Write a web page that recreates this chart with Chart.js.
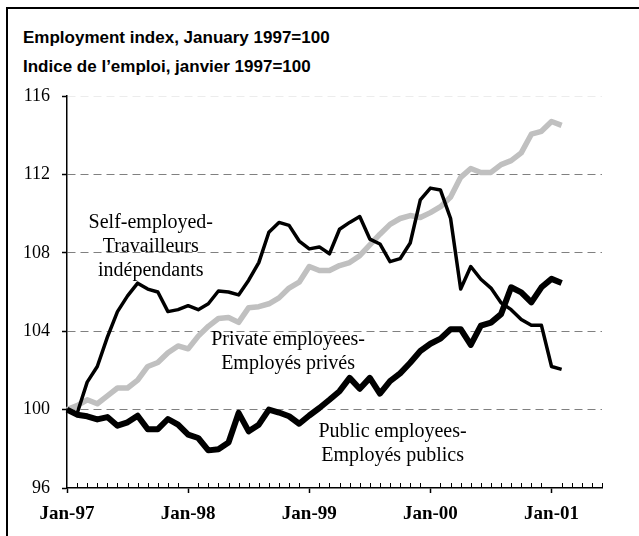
<!DOCTYPE html>
<html>
<head>
<meta charset="utf-8">
<script src="https://cdn.jsdelivr.net/npm/chart.js@4.4.0/dist/chart.umd.min.js"></script>
<style>
  html, body { margin: 0; padding: 0; background: #fff; }
  #wrap { position: relative; width: 639px; height: 536px; overflow: hidden; }
  #frame { position: absolute; left: 6px; top: 7px; width: 700px; height: 600px;
           border-top: 2px solid #000; border-left: 2px solid #000; }
  .title { position: absolute; left: 23px; font: bold 17px 'Liberation Sans', Arial, sans-serif;
           line-height: 20px; color: #000; white-space: nowrap; }
  canvas { position: absolute; left: 0; top: 0; }
</style>
</head>
<body>
<div id="wrap">
  <div id="frame"></div>
  <div class="title" style="top:28px">Employment index, January 1997=100</div>
  <div class="title" style="top:57px">Indice de l’emploi, janvier 1997=100</div>
  <canvas id="employment-chart" width="639" height="536"></canvas>
</div>
<script>
// monthly index, Jan-97 .. Feb-01
const selfEmployed = [
  100, 99.8, 101.4, 102.2, 103.7, 105.0, 105.8, 106.45, 106.15, 106.0, 105.0, 105.1,
  105.3, 105.1, 105.4, 106.05, 106.0, 105.85, 106.6, 107.5, 109.05, 109.55, 109.4, 108.6,
  108.2, 108.3, 107.95, 109.2, 109.55, 109.85, 108.7, 108.45, 107.55, 107.7, 108.5, 110.7,
  111.3, 111.2, 109.75, 106.15, 107.3, 106.65, 106.2, 105.45, 105.1, 104.6, 104.3, 104.3,
  102.2, 102.05
];
const privateEmployees = [
  100, 100.2, 100.5, 100.3, 100.7, 101.1, 101.1, 101.5, 102.2, 102.4, 102.9, 103.25,
  103.1, 103.75, 104.25, 104.65, 104.7, 104.45, 105.2, 105.25, 105.4, 105.7, 106.2, 106.5,
  107.3, 107.1, 107.1, 107.35, 107.5, 107.85, 108.4, 108.95, 109.45, 109.75, 109.9, 109.8,
  110.05, 110.35, 110.85, 111.85, 112.3, 112.1, 112.1, 112.5, 112.7, 113.1, 114.05, 114.2,
  114.7, 114.5
];
const publicEmployees = [
  100, 99.74, 99.66, 99.5, 99.62, 99.18, 99.35, 99.69, 99.0, 99.0, 99.52, 99.23,
  98.72, 98.55, 97.92, 97.98, 98.32, 99.83, 98.89, 99.23, 100.0, 99.85, 99.66, 99.28,
  99.7, 100.08, 100.5, 100.94, 101.62, 101.06, 101.62, 100.82, 101.45, 101.85, 102.39, 102.99,
  103.36, 103.62, 104.1, 104.1, 103.3, 104.28, 104.44, 104.87, 106.24, 105.98, 105.47, 106.24,
  106.67, 106.46
];
const yTicks = [96, 100, 104, 108, 112, 116];
const monthNames = ['Jan', 'Feb', 'Mar', 'Apr', 'May', 'Jun', 'Jul', 'Aug', 'Sep', 'Oct', 'Nov', 'Dec'];
const yearNames = ['97', '98', '99', '00', '01'];
const monthCount = 54; // axis runs on to Jun-01

const categories = [];
for (let i = 0; i < monthCount; i++) {
    categories.push(monthNames[i % 12] + '-' + yearNames[Math.floor(i / 12)]);
}

const notes = [
    { lines: ['Self-employed-', 'Travailleurs', 'indépendants'], x: 8.3, y: 109.52 },
    { lines: ['Private employees-', 'Employés privés'], x: 21.9, y: 103.55 },
    { lines: ['Public employees-', 'Employés publics'], x: 32.25, y: 98.86 }
];

// small monthly ticks pointing up from the x axis, plus the text notes
const axisDecor = {
    id: 'axisDecor',
    afterDraw(chart) {
        const ctx = chart.ctx;
        const xs = chart.scales.x;
        const ys = chart.scales.y;
        const bottom = chart.chartArea.bottom;
        ctx.save();
        ctx.strokeStyle = '#000';
        ctx.lineWidth = 1;
        for (let i = 0; i < monthCount; i++) {
            if (i % 12 === 0) continue;
            const px = Math.round(xs.getPixelForValue(i)) + 0.5;
            ctx.beginPath();
            ctx.moveTo(px, bottom - 5);
            ctx.lineTo(px, bottom);
            ctx.stroke();
        }
        ctx.fillStyle = '#000';
        ctx.font = '20px "Liberation Serif", "Times New Roman", serif';
        ctx.textAlign = 'center';
        ctx.textBaseline = 'middle';
        notes.forEach(n => {
            const cx = xs.getPixelForValue(n.x);
            const cy = ys.getPixelForValue(n.y);
            n.lines.forEach((t, k) => ctx.fillText(t, cx, cy + k * 24));
        });
        ctx.restore();
    }
};

const canvas = document.getElementById('employment-chart');
if (canvas) {
    new Chart(canvas.getContext('2d'), {
        type: 'line',
        data: {
            labels: categories,
            datasets: [
                { label: 'Private employees', data: privateEmployees, borderColor: '#c0c0c0', borderWidth: 5.5, order: 3 },
                { label: 'Self-employed', data: selfEmployed, borderColor: '#000', borderWidth: 3.5, order: 2 },
                { label: 'Public employees', data: publicEmployees, borderColor: '#000', borderWidth: 6, order: 1 }
            ]
        },
        options: {
            responsive: false,
            animation: false,
            layout: { padding: { left: 23, right: 37, top: 96, bottom: 0 } },
            elements: {
                point: { radius: 0 },
                line: { tension: 0, borderJoinStyle: 'round', fill: false }
            },
            plugins: { legend: { display: false }, tooltip: { enabled: false }, title: { display: false } },
            scales: {
                x: {
                    type: 'category',
                    offset: false,
                    afterFit: s => { s.height = 48; },
                    grid: {
                        drawOnChartArea: false,
                        drawTicks: true,
                        tickLength: 5,
                        tickWidth: 1.5,
                        tickColor: c => c.index % 12 === 0 ? '#000' : 'rgba(0,0,0,0)'
                    },
                    border: { display: true, color: '#000', width: 1.5 },
                    ticks: {
                        autoSkip: false,
                        maxRotation: 0,
                        minRotation: 0,
                        padding: 10,
                        color: '#000',
                        font: { family: '"Liberation Serif", "Times New Roman", serif', size: 19, weight: 'bold' },
                        callback: (v, i) => i % 12 === 0 ? categories[i] : ''
                    }
                },
                y: {
                    min: 96,
                    max: 116,
                    afterFit: s => { s.width = 44; },
                    afterBuildTicks: s => { s.ticks = yTicks.map(v => ({ value: v })); },
                    grid: {
                        lineWidth: 1,
                        color: c => c.tick.value === 96 ? 'rgba(0,0,0,0)' : (c.tick.value === 116 ? '#ececec' : '#808080'),
                        tickColor: '#000',
                        tickLength: 5,
                        tickWidth: 1.5
                    },
                    border: { display: true, color: '#000', width: 1.5, dash: [8, 5] },
                    ticks: {
                        padding: 12,
                        color: '#000',
                        font: { family: '"Liberation Serif", "Times New Roman", serif', size: 18 }
                    }
                }
            }
        },
        plugins: [axisDecor]
    });
} else {
    console.error('employment-chart canvas not found!');
}
</script>
</body>
</html>
